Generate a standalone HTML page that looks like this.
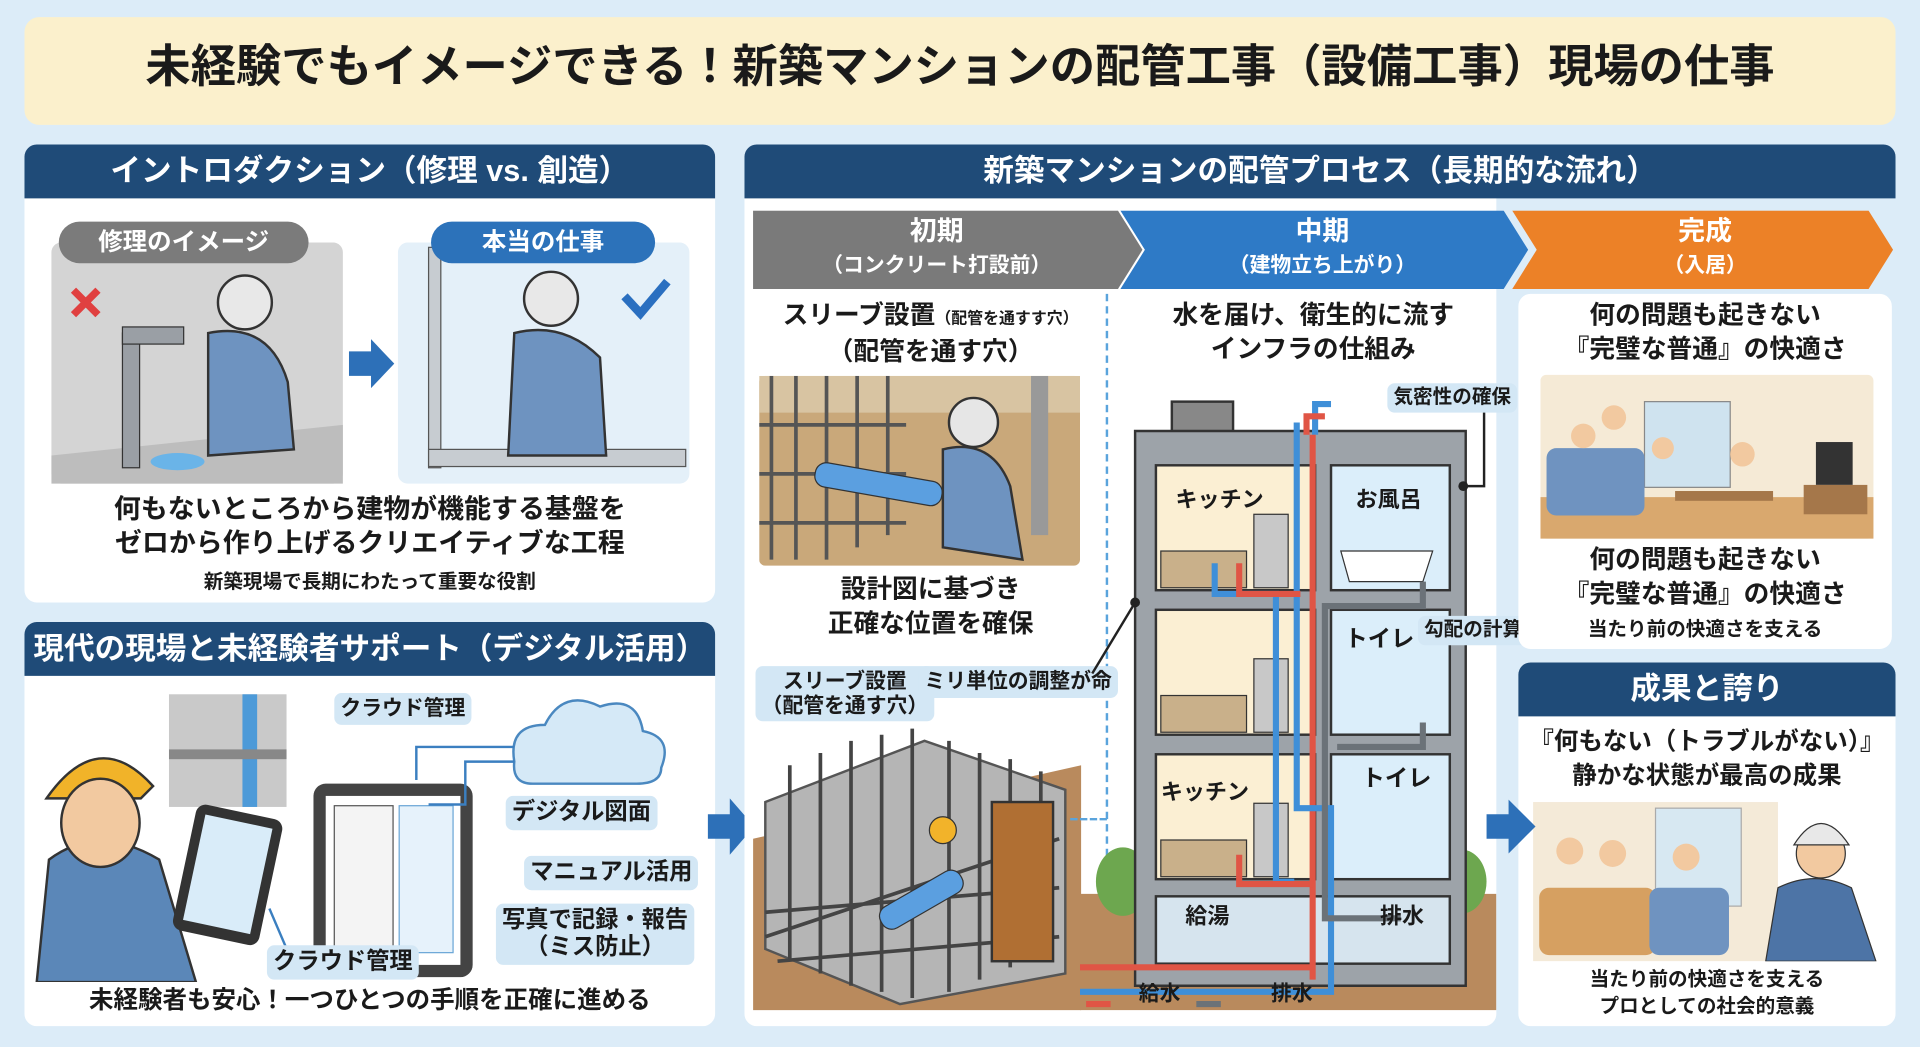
<!DOCTYPE html>
<html><head><meta charset="utf-8">
<style>
*{margin:0;padding:0;box-sizing:border-box}
html,body{width:1920px;height:1047px;overflow:hidden;background:#dcecf8}
#s{position:absolute;left:0;top:0;width:1568px;height:855px;transform:scale(1.22449);transform-origin:0 0;font-family:"Liberation Sans","Noto Sans CJK JP",sans-serif;font-weight:700;color:#1a1a1a}
.a{position:absolute}
.t{position:absolute;text-align:center;white-space:nowrap;line-height:1.2}
.hd{position:absolute;background:#1f4b78;color:#fff;text-align:center;border-radius:10px 10px 0 0;font-size:25px;line-height:44px;height:44px}
.card{position:absolute;background:#fff;border-radius:10px}
.pill{position:absolute;background:#d3e7f5;border-radius:6px;text-align:center;font-size:17px;line-height:1.15;padding:3px 5px;white-space:nowrap}
</style></head><body>
<div id="s">
<!-- title -->
<div class="a" style="left:20px;top:14px;width:1528px;height:88px;background:#fbf0cc;border-radius:12px"></div>
<div class="t" style="left:20px;width:1528px;top:33px;font-size:37px;">未経験でもイメージできる！新築マンションの配管工事（設備工事）現場の仕事</div>

<!-- panel A -->
<div class="card" style="left:20px;top:118px;width:564px;height:374px"></div>
<div class="hd" style="left:20px;top:118px;width:564px">イントロダクション（修理 vs. 創造）</div>
<svg class="a" style="left:20px;top:162px" width="564" height="240">
 <rect x="22" y="36" width="238" height="197" rx="8" fill="#d4d4d4"/>
 <polygon points="22,210 260,185 260,233 22,233" fill="#bdbdbd"/>
 <rect x="80" y="110" width="14" height="110" fill="#9a9fa5" stroke="#333"/>
 <rect x="80" y="105" width="50" height="14" fill="#9a9fa5" stroke="#333"/>
 <path d="M40 75 L60 95 M60 75 L40 95" stroke="#e04040" stroke-width="6"/>
 <ellipse cx="125" cy="215" rx="22" ry="7" fill="#6ab4e8"/>
 <circle cx="180" cy="85" r="22" fill="#e8e8e8" stroke="#333" stroke-width="2"/>
 <path d="M150 110 Q200 100 215 150 L220 205 L150 210 Z" fill="#6e93c0" stroke="#333" stroke-width="2"/>
 <rect x="305" y="36" width="238" height="197" rx="8" fill="#e4f0f9"/>
 <rect x="330" y="40" width="10" height="180" fill="#c7ccd1" stroke="#555"/>
 <rect x="330" y="205" width="210" height="14" fill="#c7ccd1" stroke="#555"/>
 <path d="M490 80 L503 94 L525 68" stroke="#2a6fc0" stroke-width="7" fill="none"/>
 <circle cx="430" cy="82" r="22" fill="#e8e8e8" stroke="#333" stroke-width="2"/>
 <path d="M400 110 Q440 100 470 130 L475 210 L395 210 Z" fill="#6e93c0" stroke="#333" stroke-width="2"/>
 <polygon points="265,125 283,125 283,115 302,135 283,155 283,145 265,145" fill="#2d70b8"/>
</svg>
<div class="t" style="left:48px;top:181px;width:204px;height:34px;line-height:34px;background:#7b7b7b;color:#fff;border-radius:17px;font-size:20px">修理のイメージ</div>
<div class="t" style="left:352px;top:181px;width:183px;height:34px;line-height:34px;background:#2c72ba;color:#fff;border-radius:17px;font-size:20px">本当の仕事</div>
<div class="t" style="left:20px;width:564px;top:402px;font-size:22px;line-height:28px">何もないところから建物が機能する基盤を<br>ゼロから作り上げるクリエイティブな工程</div>
<div class="t" style="left:20px;width:564px;top:466px;font-size:16px">新築現場で長期にわたって重要な役割</div>

<!-- panel B -->
<div class="card" style="left:20px;top:508px;width:564px;height:330px"></div>
<div class="hd" style="left:20px;top:508px;width:564px">現代の現場と未経験者サポート（デジタル活用）</div>
<svg class="a" style="left:20px;top:552px" width="564" height="250">
 <rect x="118" y="15" width="96" height="92" fill="#c9c9c9"/>
 <rect x="178" y="15" width="12" height="92" fill="#4d9ad8"/>
 <rect x="118" y="60" width="96" height="8" fill="#888"/>
 <path d="M18 100 Q60 40 105 90 L95 100 Z" fill="#f1b329" stroke="#333" stroke-width="2"/>
 <path d="M10 250 L20 150 Q60 120 110 150 L140 250 Z" fill="#5b87b8" stroke="#333" stroke-width="2"/>
 <ellipse cx="62" cy="120" rx="32" ry="36" fill="#f2c9a0" stroke="#333" stroke-width="2"/>
 <rect x="130" y="110" width="72" height="105" rx="8" fill="#333" transform="rotate(12 166 162)"/>
 <rect x="138" y="118" width="56" height="88" fill="#d9ecf9" transform="rotate(12 166 162)"/>
 <rect x="236" y="88" width="130" height="158" rx="10" fill="#444"/>
 <rect x="246" y="98" width="110" height="138" fill="#fff"/>
 <rect x="253" y="106" width="48" height="120" fill="#f4f4f4" stroke="#555"/>
 <rect x="306" y="106" width="44" height="120" fill="#e6f2fb" stroke="#6aa6d6"/>
 <path d="M400 70 Q395 40 425 40 Q440 10 470 25 Q500 15 505 45 Q530 50 520 75 Q520 88 500 88 L415 88 Q398 88 400 70Z" fill="#d5e9f7" stroke="#4a88c0" stroke-width="2"/>
 <path d="M400 58 L320 58 L320 85 M375 60" stroke="#3b7fc0" stroke-width="2" fill="none"/>
 <path d="M330 105 L360 105 L360 70 L400 70" stroke="#3b7fc0" stroke-width="2" fill="none"/>
 <path d="M200 190 L215 225" stroke="#3b7fc0" stroke-width="2"/>
</svg>
<div class="pill" style="left:273px;top:566px">クラウド管理</div>
<div class="pill" style="left:413px;top:650px;font-size:19px">デジタル図面</div>
<div class="pill" style="left:428px;top:699px;font-size:19px">マニュアル活用</div>
<div class="pill" style="left:405px;top:738px;font-size:19px">写真で記録・報告<br>（ミス防止）</div>
<div class="pill" style="left:218px;top:772px;font-size:19px">クラウド管理</div>
<div class="t" style="left:20px;width:564px;top:805px;font-size:20px">未経験者も安心！一つひとつの手順を正確に進める</div>

<!-- arrows between -->
<svg class="a" style="left:578px;top:650px" width="40" height="50"><polygon points="0,15 18,15 18,2 38,25 18,48 18,35 0,35" fill="#2d70b8"/></svg>

<!-- right big panel -->
<div class="card" style="left:608px;top:118px;width:614px;height:720px"></div>
<div class="hd" style="left:608px;top:118px;width:940px">新築マンションの配管プロセス（長期的な流れ）</div>
<svg class="a" style="left:608px;top:172px" width="940" height="66">
 <polygon points="7,0 305,0 325,32 305,64 7,64" fill="#7a7a7a"/>
 <polygon points="307,0 620,0 640,32 620,64 307,64 327,32" fill="#2e7ac6"/>
 <polygon points="627,0 918,0 938,32 918,64 627,64 647,32" fill="#ec8127"/>
</svg>
<div class="t" style="left:615px;width:300px;top:176px;font-size:22px;color:#fff;line-height:26px">初期<br><span style="font-size:17px">（コンクリート打設前）</span></div>
<div class="t" style="left:925px;width:310px;top:176px;font-size:22px;color:#fff;line-height:26px">中期<br><span style="font-size:17px">（建物立ち上がり）</span></div>
<div class="t" style="left:1245px;width:295px;top:176px;font-size:22px;color:#fff;line-height:26px">完成<br><span style="font-size:17px">（入居）</span></div>
<div class="a" style="left:903px;top:240px;height:580px;border-left:2px dashed #5aa4dc"></div>

<div class="t" style="left:615px;width:290px;top:244px;font-size:21px;line-height:28px">スリーブ設置<span style="font-size:13px">（配管を通すす穴）</span><br>（配管を通す穴）</div>
<svg class="a" style="left:620px;top:307px" width="262" height="155">
 <rect width="262" height="155" rx="5" fill="#c9a87a"/>
 <rect width="262" height="30" fill="#d8c4a2"/>
 <g stroke="#555" stroke-width="3"><path d="M10 0V150M30 0V150M55 0V150M80 0V140M105 0V130"/><path d="M0 40H120M0 80H120M0 120H120"/></g>
 <rect x="45" y="78" width="105" height="20" rx="9" fill="#5b9fe0" stroke="#333" transform="rotate(10 95 88)"/>
 <circle cx="175" cy="38" r="20" fill="#e6e6e6" stroke="#333" stroke-width="2"/>
 <path d="M150 60 Q190 50 205 90 L215 150 L150 140 Z" fill="#6e93c0" stroke="#333" stroke-width="2"/>
 <rect x="222" y="0" width="14" height="130" fill="#999"/>
</svg>
<div class="t" style="left:615px;width:290px;top:468px;font-size:21px;line-height:28px">設計図に基づき<br>正確な位置を確保</div>
<svg class="a" style="left:615px;top:565px" width="268" height="260">
 <rect y="0" width="268" height="260" fill="#fff"/>
 <polygon points="0,120 268,60 268,260 0,260" fill="#b98a5d"/>
 <polygon points="10,90 140,40 255,80 255,230 120,255 10,210" fill="#b5b5b5" stroke="#555" stroke-width="2"/>
 <g stroke="#444" stroke-width="3"><path d="M30 60V220M55 50V230M80 40V240M105 35V245M130 30V250M160 40V245M185 50V235M210 55V225M235 65V215"/><path d="M10 200L250 120M10 180L250 160M20 220L250 200"/></g>
 <rect x="195" y="90" width="50" height="130" fill="#b06f33" stroke="#333" stroke-width="2"/>
 <rect x="100" y="160" width="75" height="20" rx="9" fill="#5b9fe0" stroke="#333" transform="rotate(-30 137 170)"/>
 <circle cx="155" cy="113" r="11" fill="#f2b32a" stroke="#333"/>
</svg>
<div class="pill" style="left:617px;top:544px">スリーブ設置<br>（配管を通す穴）</div>
<div class="pill" style="left:750px;top:544px">ミリ単位の調整が命</div>

<!-- middle building -->
<div class="t" style="left:905px;width:335px;top:244px;font-size:21px;line-height:28px">水を届け、衛生的に流す<br>インフラの仕組み</div>
<svg class="a" style="left:882px;top:320px" width="340" height="505">
 <rect x="0" y="410" width="340" height="95" fill="#b98a5d"/>
 <ellipse cx="35" cy="400" rx="22" ry="28" fill="#6da74f"/>
 <ellipse cx="312" cy="400" rx="20" ry="26" fill="#6da74f"/>
 <rect x="75" y="8" width="50" height="35" fill="#888" stroke="#333" stroke-width="2"/>
 <path d="M45 32H315V485H45Z" fill="#9da3a9" stroke="#333" stroke-width="2"/>
 <rect x="62" y="60" width="130" height="102" fill="#fbefd3" stroke="#333" stroke-width="2"/>
 <rect x="205" y="60" width="97" height="102" fill="#dbeefa" stroke="#333" stroke-width="2"/>
 <rect x="62" y="178" width="130" height="102" fill="#fbefd3" stroke="#333" stroke-width="2"/>
 <rect x="205" y="178" width="97" height="102" fill="#dbeefa" stroke="#333" stroke-width="2"/>
 <rect x="62" y="296" width="130" height="102" fill="#fbefd3" stroke="#333" stroke-width="2"/>
 <rect x="205" y="296" width="97" height="102" fill="#dbeefa" stroke="#333" stroke-width="2"/>
 <rect x="62" y="412" width="240" height="55" fill="#d6e4ee" stroke="#333" stroke-width="2"/>
 <g fill="#c9b08a" stroke="#333"><rect x="66" y="130" width="70" height="30"/><rect x="66" y="248" width="70" height="30"/><rect x="66" y="366" width="70" height="30"/></g>
 <g fill="#c8c8c8" stroke="#333"><rect x="142" y="100" width="28" height="60"/><rect x="142" y="218" width="28" height="60"/><rect x="142" y="336" width="28" height="60"/></g>
 <path d="M213 130H288L280 155H220Z" fill="#fff" stroke="#333"/>
 <g fill="none" stroke-width="5">
 <path d="M192 35V10H205" stroke="#3f8fd8"/>
 <path d="M185 35V20H200M190 35V480M0 470H190" stroke="#e05545"/>
 <path d="M110 140V165H160V400H175" stroke="#3f8fd8"/>
 <path d="M0 490H205V340H177V25" stroke="#3f8fd8"/>
 <path d="M130 140V165H180M130 378V402H190" stroke="#e05545"/>
 <path d="M280 155V175H200V430H262" stroke="#6b7278"/>
 <path d="M280 270V290H210" stroke="#6b7278"/>
 </g>
 <path d="M5 500H25" stroke="#e05545" stroke-width="5"/>
 <path d="M95 500H115" stroke="#6b7278" stroke-width="5"/>
 <path d="M313 77H330V10" stroke="#222" stroke-width="2" fill="none"/>
 <circle cx="313" cy="77" r="4" fill="#222"/>
 <circle cx="45" cy="172" r="4" fill="#222"/>
 <path d="M45 172L10 230" stroke="#222" stroke-width="2"/>
</svg>
<div class="t" style="left:960px;top:398px;font-size:18px">キッチン</div>
<div class="t" style="left:1107px;top:398px;font-size:18px">お風呂</div>
<div class="t" style="left:1098px;top:512px;font-size:19px">トイレ</div>
<div class="t" style="left:948px;top:637px;font-size:18px">キッチン</div>
<div class="t" style="left:1112px;top:626px;font-size:19px">トイレ</div>
<div class="t" style="left:968px;top:738px;font-size:18px">給湯</div>
<div class="t" style="left:1127px;top:738px;font-size:18px">排水</div>
<div class="t" style="left:930px;top:802px;font-size:17px">給水</div>
<div class="t" style="left:1038px;top:802px;font-size:17px">排水</div>
<div class="pill" style="left:1133px;top:313px;font-size:16px">気密性の確保</div>
<div class="pill" style="left:1158px;top:503px;font-size:16px">勾配の計算</div>
<div class="a" style="left:874px;top:668px;width:30px;border-top:2px dashed #5aa4dc"></div>

<!-- right column -->
<div class="card" style="left:1240px;top:240px;width:305px;height:290px"></div>
<div class="t" style="left:1240px;width:305px;top:244px;font-size:21px;line-height:28px">何の問題も起きない<br>『完璧な普通』の快適さ</div>
<svg class="a" style="left:1258px;top:306px" width="272" height="134">
 <rect width="272" height="134" rx="5" fill="#f5ead6"/>
 <rect x="85" y="22" width="70" height="70" fill="#cfe3ef" stroke="#888"/>
 <polygon points="0,100 272,100 272,134 0,134" fill="#d9a86e"/>
 <rect x="5" y="60" width="80" height="55" rx="8" fill="#6f93c0"/>
 <circle cx="35" cy="50" r="10" fill="#f2c9a0"/><circle cx="60" cy="35" r="10" fill="#f2c9a0"/><circle cx="100" cy="60" r="9" fill="#f2c9a0"/><circle cx="165" cy="65" r="10" fill="#f2c9a0"/>
 <rect x="110" y="95" width="80" height="8" fill="#a5774a"/>
 <rect x="225" y="55" width="30" height="35" fill="#333"/>
 <rect x="215" y="90" width="52" height="24" fill="#a5774a"/>
</svg>
<div class="t" style="left:1240px;width:305px;top:444px;font-size:21px;line-height:28px">何の問題も起きない<br>『完璧な普通』の快適さ</div>
<div class="t" style="left:1240px;width:305px;top:505px;font-size:16px">当たり前の快適さを支える</div>

<div class="card" style="left:1240px;top:541px;width:308px;height:297px"></div>
<div class="hd" style="left:1240px;top:541px;width:308px">成果と誇り</div>
<div class="t" style="left:1240px;width:308px;top:592px;font-size:20px;line-height:28px">『何もない（トラブルがない）』<br>静かな状態が最高の成果</div>
<svg class="a" style="left:1252px;top:655px" width="290" height="130">
 <rect width="200" height="130" fill="#f4ead8"/>
 <rect x="100" y="5" width="70" height="80" fill="#d7e8f2" stroke="#aaa"/>
 <rect x="5" y="70" width="95" height="55" rx="8" fill="#d6a061"/>
 <rect x="95" y="70" width="65" height="55" rx="8" fill="#6f93c0"/>
 <circle cx="30" cy="40" r="11" fill="#f2c9a0"/><circle cx="65" cy="42" r="11" fill="#f2c9a0"/><circle cx="125" cy="45" r="11" fill="#f2c9a0"/>
 <path d="M190 130 L200 70 Q230 55 260 70 L280 130Z" fill="#4d74a6" stroke="#333"/>
 <circle cx="235" cy="42" r="20" fill="#f2c9a0" stroke="#333"/>
 <path d="M213 35 Q235 0 258 35Z" fill="#e8e8e8" stroke="#333"/>
</svg>
<div class="t" style="left:1240px;width:308px;top:790px;font-size:16px;line-height:22px">当たり前の快適さを支える<br>プロとしての社会的意義</div>
<svg class="a" style="left:1214px;top:652px" width="42" height="46"><polygon points="0,13 18,13 18,1 40,23 18,45 18,33 0,33" fill="#2d70b8"/></svg>
</div>
</body></html>
